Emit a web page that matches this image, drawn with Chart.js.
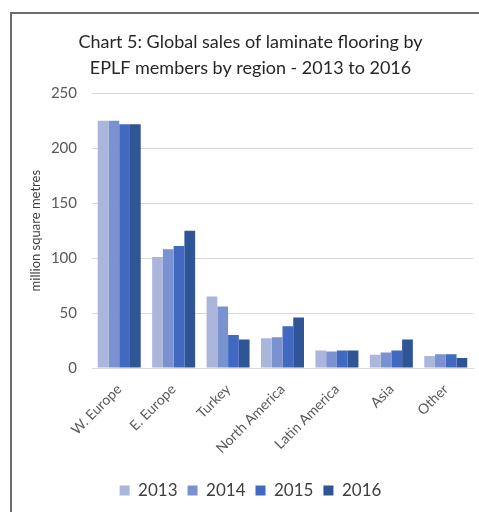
<!DOCTYPE html>
<html>
<head>
<meta charset="utf-8">
<script src="https://cdn.jsdelivr.net/npm/chart.js@4/dist/chart.umd.min.js"></script>
<style>
  html, body { margin: 0; padding: 0; background: #fff; }
  #wrap { position: relative; width: 479px; height: 512px; overflow: hidden; }
  #frame { position: absolute; left: 10px; top: 12px; width: 480px; height: 510px; border-left: 2px solid #6b6b6b; border-top: 2px solid #6b6b6b; pointer-events: none; }
  #box { position: absolute; left: 0; top: 0; width: 479px; height: 512px; }
</style>
</head>
<body>
<div id="wrap">
  <div id="box"><canvas id="c"></canvas></div>
  <div id="frame"></div>
</div>
<script>
const categories = ["W. Europe", "E. Europe", "Turkey", "North America", "Latin America", "Asia", "Other"];
const seriesNames = ["2013", "2014", "2015", "2016"];
const values2013 = [225, 101, 65, 27, 16, 12, 11];
const values2014 = [225, 108, 56, 28, 15, 14, 12.5];
const values2015 = [222, 111, 30, 38, 16, 16, 12.5];
const values2016 = [222, 125, 26, 46, 16, 26, 9];
const colors = ["#aab6dc", "#7b92d0", "#4169c1", "#2f5597"];
const yTicks = [0, 50, 100, 150, 200, 250];

const allValues = [values2013, values2014, values2015, values2016];
const datasets = seriesNames.map((name, i) => ({
  label: name,
  data: allValues[i],
  backgroundColor: colors[i],
  borderWidth: 0,
  barPercentage: 1.0,
  categoryPercentage: 0.79
}));

new Chart(document.getElementById('c'), {
  type: 'bar',
  data: { labels: categories, datasets },
  options: {
    responsive: true,
    maintainAspectRatio: false,
    animation: false,
    layout: { padding: { left: 28, right: 6, top: 30, bottom: 3 } },
    plugins: {
      title: {
        display: true,
        text: ["Chart 5: Global sales of laminate flooring by", "EPLF members by region - 2013 to 2016"],
        font: { family: "Lato", size: 18, weight: 'normal', lineHeight: 1.4 },
        color: "#262626",
        padding: { top: 0, bottom: 13 }
      },
      legend: {
        position: 'bottom',
        labels: {
          boxWidth: 10, boxHeight: 10,
          font: { family: "Lato", size: 17 },
          color: "#404040",
          padding: 10
        }
      },
      tooltip: { enabled: false }
    },
    scales: {
      x: {
        afterFit: (s) => { s.height = 104; },
        grid: { display: false },
        border: { display: true, color: "#d9d9d9" },
        ticks: {
          minRotation: 45, maxRotation: 45,
          font: { family: "Lato", size: 14 },
          color: "#595959",
          padding: 5
        }
      },
      y: {
        min: 0, max: 250,
        afterFit: (s) => { s.width = 64; },
        afterBuildTicks: (s) => { s.ticks = yTicks.map(v => ({ value: v })); },
        grid: { color: "#d9d9d9", drawTicks: false },
        border: { display: false },
        ticks: {
          font: { family: "Lato", size: 15 },
          color: "#595959",
          padding: 15
        },
        title: {
          display: true,
          text: "million square metres",
          font: { family: "Lato", size: 13 },
          color: "#404040",
          padding: 0
        }
      }
    }
  }
});
</script>
</body>
</html>
